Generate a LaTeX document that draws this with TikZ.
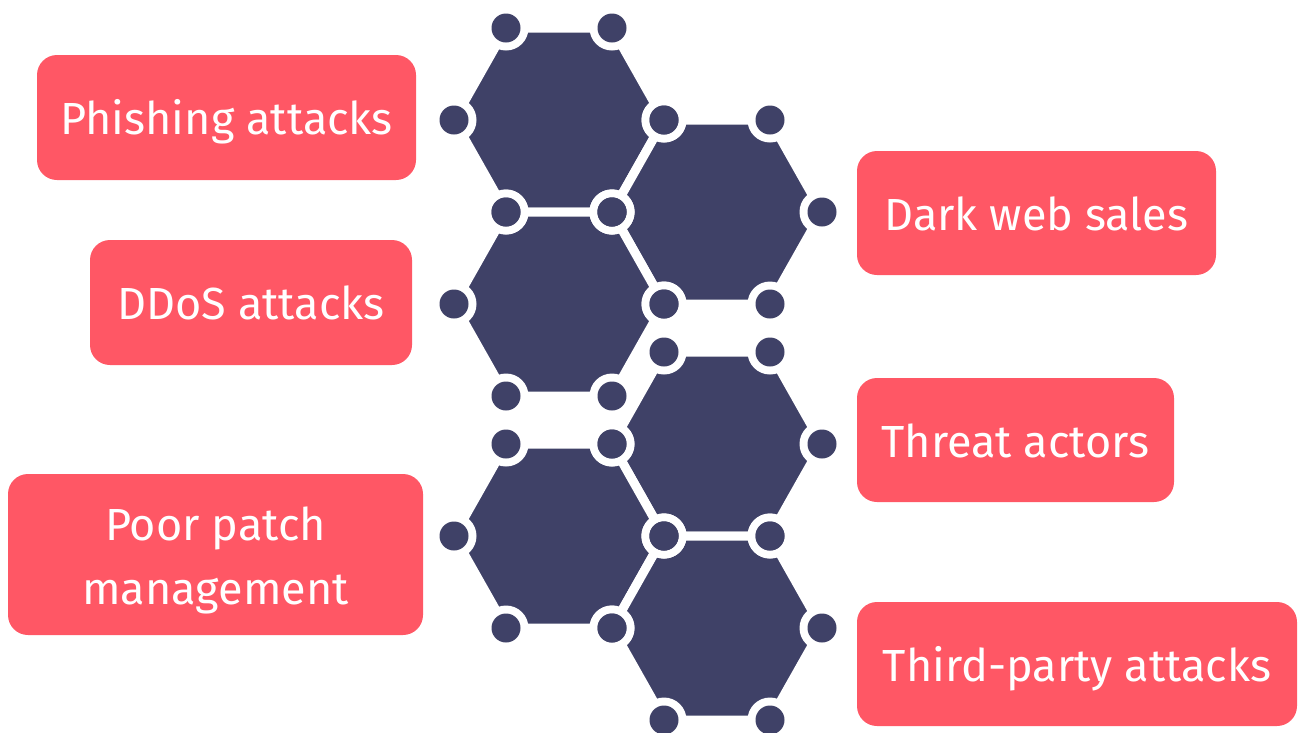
\documentclass[tikz,border=0pt]{standalone}
\usepackage{fontspec}
\setmainfont{Fira Sans}
\definecolor{coral}{RGB}{255,87,101}
\definecolor{navy}{RGB}{63,65,103}

\begin{document}
\begin{tikzpicture}[x=1pt,y=-1pt,
  label box/.style={fill=coral, rounded corners=20pt, text=white,
    font=\fontsize{45}{64}\selectfont, inner sep=0pt},
  one line/.style={text height=34pt, text depth=0pt},
  cell/.style={fill=navy, draw=white, line width=9pt, line join=round},
  ring/.style={fill=white},
  knob/.style={fill=navy}]

\useasboundingbox (0,0) rectangle (1298,732);

% hexagon centres and their six corners
\foreach \n/\cx/\cy in {h1/559/120, h2/717/212, h3/559/304,
                        h4/717/444, h5/559/536, h6/717/628} {
  \coordinate (\n) at (\cx,\cy);
  \coordinate (\n-0) at (\cx+105,\cy);
  \coordinate (\n-1) at (\cx+53,\cy-92);
  \coordinate (\n-2) at (\cx-53,\cy-92);
  \coordinate (\n-3) at (\cx-105,\cy);
  \coordinate (\n-4) at (\cx-53,\cy+92);
  \coordinate (\n-5) at (\cx+53,\cy+92);
}

% filled cells with white seams
\foreach \n in {h1,h2,h3,h4,h5,h6}
  \draw[cell] (\n-0) -- (\n-1) -- (\n-2) -- (\n-3) -- (\n-4) -- (\n-5) -- cycle;

% corner knobs
\foreach \n in {h1,h2,h3,h4,h5,h6}
  \foreach \k in {0,...,5}
    \fill[ring] (\n-\k) circle (22.5);
\foreach \n in {h1,h2,h3,h4,h5,h6}
  \foreach \k in {0,...,5}
    \fill[knob] (\n-\k) circle (14.5);

% labels
\node[label box, one line, minimum width=379pt, minimum height=125pt]
  (phish) at (226.5,117.5) {Phishing attacks};
\node[label box, one line, minimum width=322pt, minimum height=125pt]
  (ddos) at (251,302.5) {DDoS attacks};
\node[label box, align=center, minimum width=415pt, minimum height=161pt]
  (patch) at (215.5,554.5) {\rule{0pt}{46pt}Poor patch\\management};
\node[label box, one line, minimum width=359pt, minimum height=124pt]
  (dark) at (1036.5,213) {Dark web sales};
\node[label box, one line, minimum width=317pt, minimum height=124pt]
  (threat) at (1015.5,440) {Threat actors};
\node[label box, one line, minimum width=440pt, minimum height=124pt]
  (third) at (1077,664) {Third-party attacks};
\end{tikzpicture}
\end{document}
